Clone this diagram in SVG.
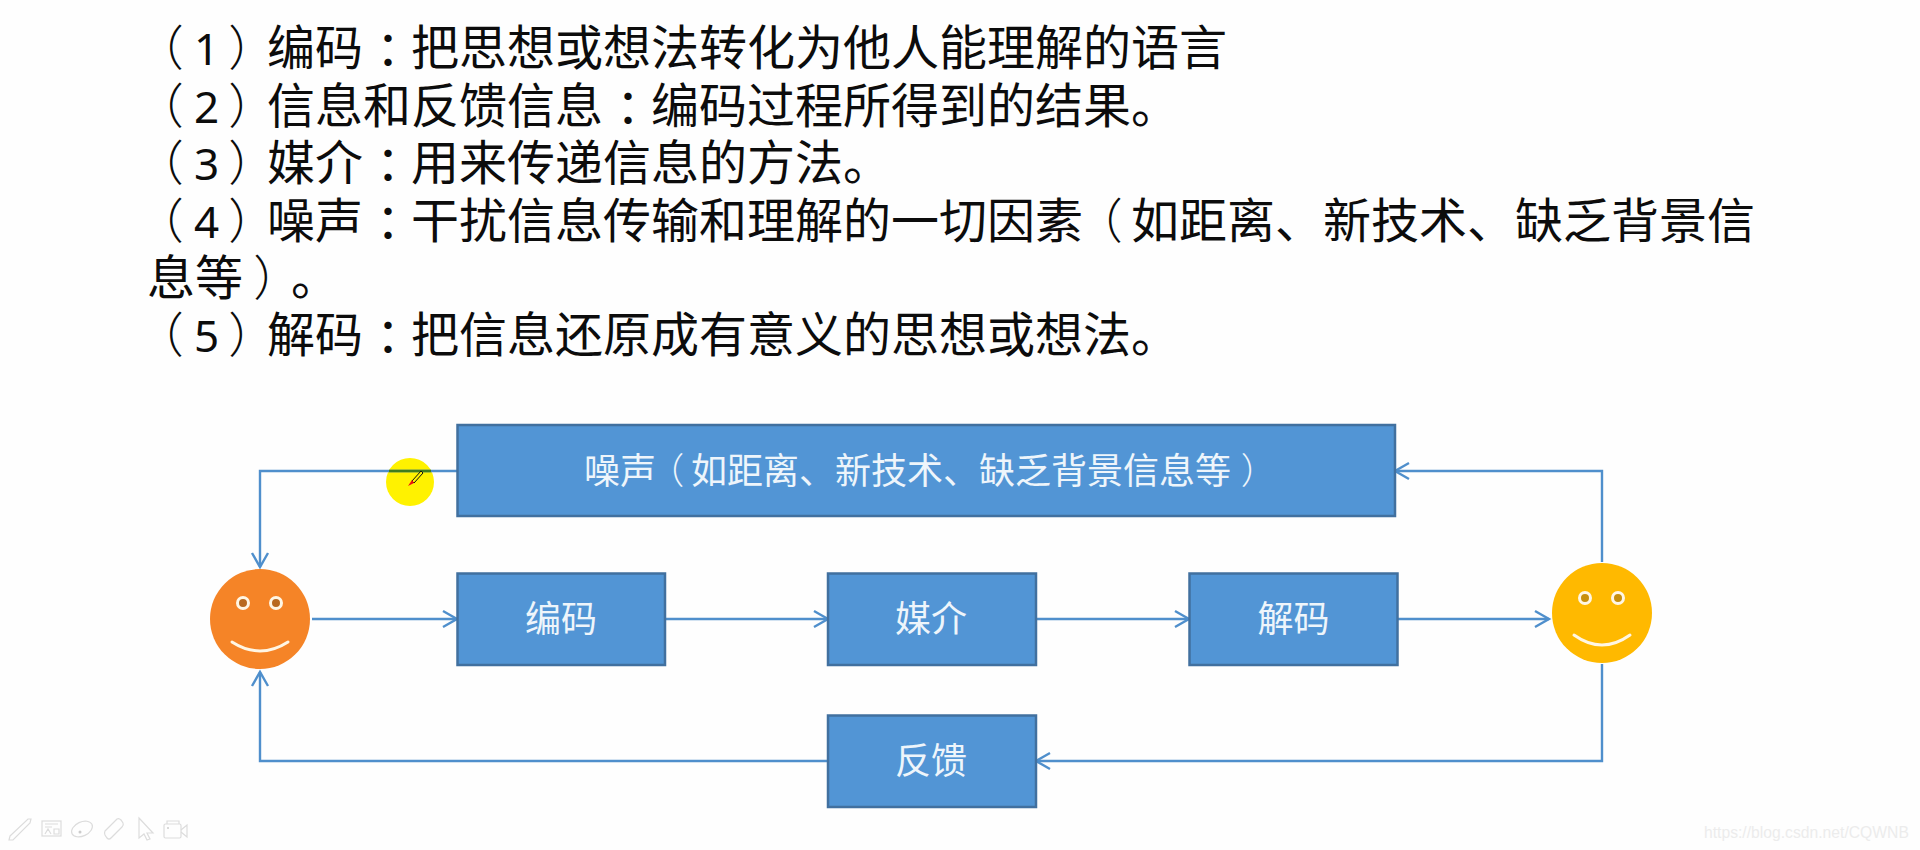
<svg xmlns="http://www.w3.org/2000/svg" width="1920" height="850" viewBox="0 0 1920 850">
<style>
text{font-family:"Noto Sans CJK SC","Noto Sans",sans-serif}
.h{font-size:48px;fill:#0c0c0c}
.p{font-family:"Noto Sans CJK TC","Noto Sans",sans-serif;font-weight:300;font-feature-settings:"palt"}
.c{font-family:"Noto Sans CJK TC","Noto Sans",sans-serif;font-feature-settings:"palt"}
.d{font-family:"Noto Sans",sans-serif;font-size:44px}
.box{fill:#5295d5;stroke:#41709f;stroke-width:2.5}
.lbl{font-size:36px;fill:#eef5fb;text-anchor:middle}
.lbs{font-size:36px;fill:#eef5fb}
.conn{fill:none;stroke:#4f8fcc;stroke-width:2.4;marker-end:url(#arr)}
.ring{stroke:#fff6e4;stroke-width:3}
.smile{fill:none;stroke:#fff6e4;stroke-width:3;stroke-linecap:round}
.ico{fill:none;stroke:#dcdcdc;stroke-width:1.2}
</style>
<defs>
<marker id="arr" markerUnits="userSpaceOnUse" markerWidth="20" markerHeight="20" refX="16" refY="10" orient="auto" overflow="visible">
<path d="M2,2 L16,10 L2,18" fill="none" stroke="#4f8fcc" stroke-width="2.4"/>
</marker>
</defs>
<rect width="1920" height="850" fill="#fefefe"/>

<g id="heading">
<text class="h" y="65"><tspan class="p" x="158">（</tspan><tspan class="d" x="194">1</tspan><tspan class="p" x="230">）</tspan><tspan x="267">编码</tspan><tspan class="c" x="376" dy="3">：</tspan><tspan x="411" dy="-3">把思想或想法转化为他人能理解的语言</tspan></text>
<text class="h" y="122.500"><tspan class="p" x="158">（</tspan><tspan class="d" x="194">2</tspan><tspan class="p" x="230">）</tspan><tspan x="267">信息和反馈信息</tspan><tspan class="c" x="616" dy="3">：</tspan><tspan x="651" dy="-3">编码过程所得到的结果。</tspan></text>
<text class="h" y="180"><tspan class="p" x="158">（</tspan><tspan class="d" x="194">3</tspan><tspan class="p" x="230">）</tspan><tspan x="267">媒介</tspan><tspan class="c" x="376" dy="3">：</tspan><tspan x="411" dy="-3">用来传递信息的方法。</tspan></text>
<text class="h" y="237.500"><tspan class="p" x="158">（</tspan><tspan class="d" x="194">4</tspan><tspan class="p" x="230">）</tspan><tspan x="267">噪声</tspan><tspan class="c" x="376" dy="3">：</tspan><tspan x="411" dy="-3">干扰信息传输和理解的一切因素</tspan><tspan class="p" x="1097">（</tspan><tspan x="1131">如距离、新技术、缺乏背景信</tspan></text>
<text class="h" y="295" x="147">息等<tspan class="p" x="255">）</tspan><tspan x="291">。</tspan></text>
<text class="h" y="352"><tspan class="p" x="158">（</tspan><tspan class="d" x="194">5</tspan><tspan class="p" x="230">）</tspan><tspan x="267">解码</tspan><tspan class="c" x="376" dy="3">：</tspan><tspan x="411" dy="-3">把信息还原成有意义的思想或想法。</tspan></text>
</g>

<g id="cursor-halo"><circle cx="410" cy="482" r="24" fill="#fff200"/></g>

<g id="connectors">
<path class="conn" d="M457,471 H260 V567"/>
<path class="conn" d="M312,619 H457"/>
<path class="conn" d="M665,619 H828"/>
<path class="conn" d="M1036,619 H1189"/>
<path class="conn" d="M1398,619 H1549"/>
<path class="conn" d="M1602,562 V471 H1395"/>
<path class="conn" d="M1602,664 V761 H1036"/>
<path class="conn" d="M828,761 H260 V672"/>
</g>

<g id="cursor">
<path d="M389,471 H431" stroke="#3f7d1e" stroke-width="2.4"/>
<path d="M412,481 L421,471 L423,473 L414,483 Z" fill="#fff200" stroke="#111" stroke-width="1"/>
<path d="M408,486 L412,480 L414,483 Z" fill="#f01010"/>
</g>

<g id="node-noise"><rect class="box" x="457.500" y="425" width="937.500" height="91"/><text class="lbs" y="484"><tspan x="584">噪声</tspan><tspan class="p" x="665">（</tspan><tspan x="691">如距离、新技术、缺乏背景信息等</tspan><tspan class="p" x="1242">）</tspan></text></g>
<g id="node-encode"><rect class="box" x="457.500" y="573.500" width="207.500" height="91.500"/><text class="lbl" x="561" y="632">编码</text></g>
<g id="node-medium"><rect class="box" x="828" y="573.500" width="208" height="91.500"/><text class="lbl" x="931" y="632">媒介</text></g>
<g id="node-decode"><rect class="box" x="1189.500" y="573.500" width="208" height="91.500"/><text class="lbl" x="1293.500" y="632">解码</text></g>
<g id="node-feedback"><rect class="box" x="828" y="715.500" width="208" height="91.500"/><text class="lbl" x="931" y="774">反馈</text></g>

<g id="node-sender">
<circle cx="260" cy="619" r="50" fill="#f58427"/>
<circle class="ring" cx="243" cy="603" r="5.500" fill="#b8691f"/>
<circle class="ring" cx="276" cy="603" r="5.500" fill="#b8691f"/>
<path class="smile" d="M232,642 Q260,660 288,642"/>
</g>
<g id="node-receiver">
<circle cx="1602" cy="613" r="50" fill="#ffb900"/>
<circle class="ring" cx="1585" cy="598" r="5.500" fill="#c88f0c"/>
<circle class="ring" cx="1618" cy="598" r="5.500" fill="#c88f0c"/>
<path class="smile" d="M1574,635 Q1602,655 1630,635"/>
</g>

<g id="toolbar">
<path class="ico" d="M10,836 L28,819 L31,819 L30,823 L13,840 L9,840 Z"/>
<rect class="ico" x="42" y="821" width="19" height="15"/>
<path class="ico" d="M45,824 H58 M45,827 H52 M54,829 H59 V834 H54 Z M45,834 L48,829 L51,834"/>
<ellipse class="ico" cx="82" cy="829" rx="11" ry="7" transform="rotate(-25 82 829)"/>
<circle cx="80" cy="832" r="1.500" fill="#cccccc"/>
<path class="ico" d="M105,831 L117,819 Q119,818 121,820 L123,823 Q124,825 122,827 L111,838 Q109,840 107,838 L105,835 Q104,833 105,831 Z"/>
<path class="ico" d="M139,818 L153,833 L147,833 L150,839 L147,840 L144,834 L139,838 Z"/>
<rect class="ico" x="164" y="824" width="17" height="14" rx="1.500"/>
<path class="ico" d="M167,824 V821 H179 V824 M181,830 L187,825 V837 L181,832"/>
<circle cx="168" cy="828" r="1" fill="#cccccc"/>
</g>

<text id="watermark" x="1704" y="838" font-size="15.700" style="font-family:'Liberation Sans',sans-serif" fill="#ececec">https://blog.csdn.net/CQWNB</text>
</svg>
